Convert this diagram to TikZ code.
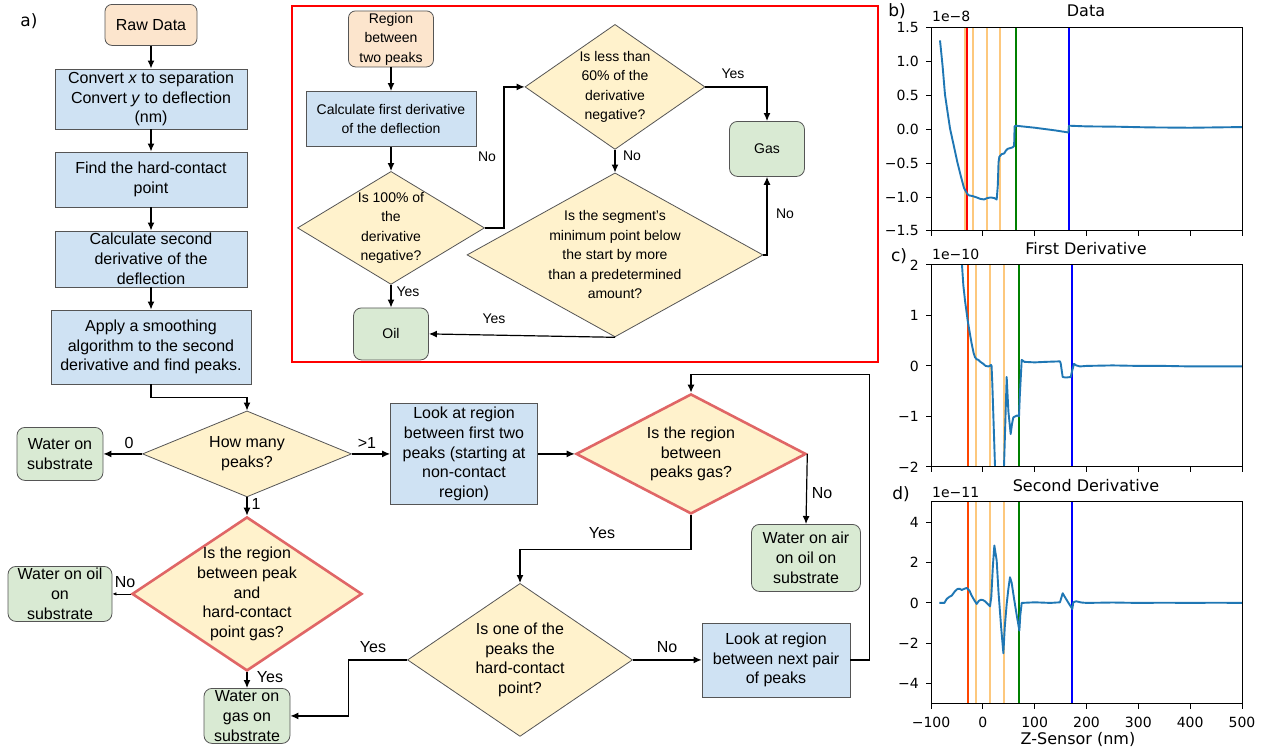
\documentclass[tikz,border=0pt]{standalone}
\usepackage{fontspec}
\setmainfont{Liberation Sans}
\newfontfamily\plotfont{DejaVu Sans}
\definecolor{startPeach}{RGB}{252,229,205}
\definecolor{stepBlue}{RGB}{207,226,243}
\definecolor{askYellow}{RGB}{255,242,204}
\definecolor{endGreen}{RGB}{217,234,211}
\definecolor{edgeRed}{RGB}{224,102,102}
\definecolor{boxGray}{RGB}{85,85,85}
\definecolor{curveBlue}{RGB}{31,119,180}
\definecolor{peakOrange}{RGB}{253,200,125}
\definecolor{hardRed}{RGB}{255,69,0}
\definecolor{plotGreen}{RGB}{0,128,0}
\usepackage{tikz}
\usetikzlibrary{shapes.geometric,arrows.meta,positioning,calc}

\begin{document}
\begin{tikzpicture}[x=1pt,y=-1pt,
    font=\fontsize{16}{19.7}\selectfont,
    start/.style={draw=boxGray,fill=startPeach,rounded corners=7pt,align=center,line width=0.8pt,inner sep=0pt},
    task/.style={draw=boxGray,fill=stepBlue,align=center,line width=0.8pt,inner sep=0pt},
    result/.style={draw=boxGray,fill=endGreen,rounded corners=8pt,align=center,line width=0.8pt,inner sep=0pt},
    query/.style={diamond,draw=boxGray,fill=askYellow,line width=0.8pt,inner sep=0pt},
    keyquery/.style={query,draw=edgeRed,line width=2.6pt},
    qtext/.style={label={[align=center]center:#1}},
    flow/.style={-{Latex[length=8pt,width=7pt]},line width=1.2pt},
    smallflow/.style={-{Latex[length=4pt,width=3.5pt]},line width=0.8pt},
    panel/.style={font=\plotfont\fontsize{17}{20}\selectfont},
    plottext/.style={font=\plotfont\fontsize{14}{17}\selectfont,inner sep=0pt},
    plottitle/.style={font=\plotfont\fontsize{16}{19}\selectfont,inner sep=0pt},
    axisframe/.style={line width=0.9pt},
    peakline/.style={line width=2pt},
    datacurve/.style={curveBlue,line width=1.9pt,line join=round}
  ]
\fill[white] (0,0) rectangle (1271,748);

\node[panel] (lblA) at (29,17) {a)};

\node[start,minimum width=92,minimum height=41] (raw) at (151,21) {Raw Data};
\node[task,minimum width=192,minimum height=60] (convert) at (151,95)
  {Convert \textit{x} to separation\\Convert \textit{y} to deflection\\(nm)};
\node[task,minimum width=192,minimum height=55] (hardpt) at (151,175.5)
  {Find the hard-contact\\point};
\node[task,minimum width=192,minimum height=56] (second) at (151,255)
  {Calculate second\\derivative of the\\deflection};
\node[task,minimum width=200,minimum height=74] (smooth) at (151,343)
  {Apply a smoothing\\algorithm to the second\\derivative and find peaks.};

\node[query,minimum width=209,minimum height=86,qtext={How many\\peaks?}] (count) at (247,450) {};
\node[result,minimum width=86,minimum height=53] (onsub) at (60,450) {Water on\\substrate};
\node[keyquery,minimum width=230,minimum height=154,
  qtext={Is the region\\between peak\\and\\hard-contact\\point gas?}] (peakq) at (247,590) {};
\node[result,minimum width=104,minimum height=55] (oilsub) at (60,590) {Water on oil\\on\\substrate};
\node[result,minimum width=86,minimum height=55] (gassub) at (247,712) {Water on\\gas on\\substrate};

\node[task,minimum width=147,minimum height=101] (firsttwo) at (464,450)
  {Look at region\\between first two\\peaks (starting at\\non-contact\\region)};
\node[keyquery,minimum width=230,minimum height=120,
  qtext={Is the region\\between\\peaks gas?}] (gasq) at (691,450) {};
\node[result,minimum width=109,minimum height=67] (airsub) at (806,554)
  {Water on air\\on oil on\\substrate};
\node[query,minimum width=225,minimum height=153,
  qtext={Is one of the\\peaks the\\hard-contact\\point?}] (hardq) at (520,656) {};
\node[task,minimum width=148,minimum height=74] (nextpair) at (776,656)
  {Look at region\\between next pair\\of peaks};

\draw[flow] (raw) -- (convert);
\draw[flow] (convert) -- (hardpt);
\draw[flow] (hardpt) -- (second);
\draw[flow] (second) -- (smooth);
\draw[flow] (smooth.south) -- ++(0,13) -| (count.north);
\draw[flow] (count.west) -- (onsub.east);
\draw[flow] (count.east) -- (firsttwo.west);
\draw[flow] (count.south) -- (peakq.north);
\draw[smallflow] (peakq.west) -- (oilsub.east);
\draw[flow] (peakq.south) -- (gassub.north);
\draw[flow] (firsttwo.east) -- (gasq.west);
\draw[flow] (gasq.east) -- (airsub.north);
\draw[flow] (gasq.south) -- ++(0,34) -| (hardq.north);
\draw[flow] (hardq.west) -- ++(-59,0) |- (gassub.east);
\draw[flow] (hardq.east) -- (nextpair.west);
\draw[flow] (nextpair.east) -- ++(19,0) |- ($(gasq.north)+(0,-18)$) -- (gasq.north);

\node (tZero) at (129,439) {0};
\node (tMany) at (367,439) {>1};
\node (tOne) at (256,500) {1};
\node (tNoOil) at (125,578) {No};
\node (tYesGas) at (270,673) {Yes};
\node (tYesHard) at (373,643) {Yes};
\node (tNoHard) at (667,643) {No};
\node (tYesPeaks) at (602,529) {Yes};
\node (tNoPeaks) at (822,489) {No};

\draw[red,line width=2pt] (292,2) rectangle (878,358);
\begin{scope}[font=\fontsize{14}{19.5}\selectfont]
\node[start,minimum width=85,minimum height=56] (region) at (391,35) {Region\\between\\two peaks};
\node[task,minimum width=170,minimum height=55] (first) at (391,115)
  {Calculate first derivative\\of the deflection};
\node[query,minimum width=187,minimum height=113,
  qtext={Is 100\% of\\the\\derivative\\negative?}] (allq) at (391,224) {};
\node[query,minimum width=180,minimum height=125,
  qtext={Is less than\\60\% of the\\derivative\\negative?}] (sixtyq) at (615,83) {};
\node[result,minimum width=75,minimum height=55] (gas) at (767,145) {Gas};
\node[query,minimum width=296,minimum height=164,
  qtext={Is the segment's\\minimum point below\\the start by more\\than a predetermined\\amount?}] (minq) at (615,251) {};
\node[result,minimum width=75,minimum height=52] (oil) at (391,330) {Oil};

\draw[flow] (region) -- (first);
\draw[flow] (first) -- (allq);
\draw[flow] (allq.east) -- ++(19,0) |- (sixtyq.west);
\draw[flow] (sixtyq.east) -| (gas.north);
\draw[flow] (sixtyq.south) -- (minq.north);
\draw[flow] (minq.east) -| (gas.south);
\draw[flow] (minq.south) -- (oil.east);
\draw[flow] (allq.south) -- (oil.north);

\node (tNoAll) at (487,153) {No};
\node (tYesSixty) at (733,70) {Yes};
\node (tNoSixty) at (632,152) {No};
\node (tNoMin) at (785,210) {No};
\node (tYesMin) at (494,315) {Yes};
\node (tYesAll) at (408,288) {Yes};
\end{scope}

% b) data
\node[panel] (lblB) at (897,7) {b)};
\node[plottitle,anchor=base] (titleB) at (1086,13) {Data};
\node[plottext,anchor=base west] (expB) at (932,18) {1e−8};
\begin{scope}[shift={(983pt,-124.5pt)},x=0.518pt,y=67.67pt]
  \clip (-100,-1.5) rectangle (500,1.5);
  \foreach \v/\c in {-34.7/peakOrange,-30.2/red,-18.6/peakOrange,7.1/peakOrange,32.8/peakOrange,63.7/plotGreen,166/blue}
    \draw[peakline,\c] (\v,-1.5) -- (\v,1.5);
  \draw[datacurve] plot coordinates {(-83,1.30) (-78,0.92) (-73.4,0.5) (-68,0.22) (-63.7,0.0) (-56,-0.27)
    (-49.5,-0.5) (-43,-0.7) (-36.7,-0.88) (-30.2,-0.97) (-27,-0.99) (-20,-1.0) (-12,-1.02) (-5.8,-1.04)
    (2,-1.05) (8,-1.03) (15,-1.02) (22,-1.03) (26.4,-1.05) (28.5,-0.85) (30,-0.5) (31.5,-0.42) (36,-0.38)
    (41,-0.37) (44,-0.33) (48,-0.3) (53,-0.29) (57,-0.28) (60,-0.26) (61,0.03) (63,0.04) (100,0.01)
    (140,-0.03) (164.8,-0.06) (166,0.04) (200,0.03) (260,0.025) (320,0.015) (400,0.01) (450,0.015) (500,0.02)};
\end{scope}
\draw[axisframe] (931,24) rectangle (1242,227);
\foreach \i in {0,...,6}
  \draw[axisframe] (931+51.83*\i,227) -- ++(0,5);
\foreach \v [count=\j from 0] in {1.5,1.0,0.5,0.0,−0.5,−1.0,−1.5} {
  \draw[axisframe] (931,24+33.83*\j) -- ++(-5,0);
  \node[plottext,anchor=east] (tickB\j) at (919,24+33.83*\j) {\v};
}

% c) first derivative
\node[panel] (lblC) at (899,252) {c)};
\node[plottitle,anchor=base] (titleC) at (1086,250.7) {First Derivative};
\node[plottext,anchor=base west] (expC) at (932,256) {1e−10};
\begin{scope}[shift={(983pt,-362pt)},x=0.518pt,y=50.5pt]
  \clip (-100,-2) rectangle (500,2);
  \foreach \v/\c in {-29/hardRed,-12.9/peakOrange,14.1/peakOrange,40/peakOrange,69.5/plotGreen,171.8/blue}
    \draw[peakline,\c] (\v,-2) -- (\v,2);
  \draw[datacurve] plot coordinates {(-42.5,2.3) (-38,1.6) (-34.7,1.29) (-29.6,0.9) (-25,0.62) (-21.9,0.44)
    (-18,0.25) (-15.4,0.17) (-12,0.13) (-9,0.12) (-5,0.08) (0.7,0.04) (5,0.0) (10.3,-0.01) (13,0.0)
    (15.4,0.02) (16.5,0.0) (18,-0.36) (23.2,-2.0) (25,-2.5) (39,-2.5) (40.5,-2.0) (45.7,-0.22) (49,-0.9)
    (53.4,-1.35) (56,-1.15) (58.5,-1.02) (62,-1.0) (66.2,-0.98) (69.5,-1.0) (71,-0.6) (74.7,0.12) (80,0.08)
    (100,0.07) (120,0.08) (148.6,0.09) (150,0.05) (153.8,-0.22) (160,-0.23) (169.3,-0.22) (172,-0.1)
    (175.7,0.04) (180,0.01) (187,-0.01) (200,0.0) (250,0.01) (300,0.0) (350,0.0) (400,-0.01) (450,-0.01) (500,-0.01)};
\end{scope}
\draw[axisframe] (931,261) rectangle (1242,463);
\foreach \i in {0,...,6}
  \draw[axisframe] (931+51.83*\i,463) -- ++(0,5);
\foreach \v [count=\j from 0] in {2,1,0,−1,−2} {
  \draw[axisframe] (931,261+50.5*\j) -- ++(-5,0);
  \node[plottext,anchor=east] (tickC\j) at (919,261+50.5*\j) {\v};
}

% d) second derivative
\node[panel] (lblD) at (901,490) {d)};
\node[plottitle,anchor=base] (titleD) at (1086,488) {Second Derivative};
\node[plottext,anchor=base west] (expD) at (932,494) {1e−11};
\begin{scope}[shift={(983pt,-599pt)},x=0.518pt,y=20.2pt]
  \clip (-100,-5) rectangle (500,5);
  \foreach \v/\c in {-29/hardRed,-12.9/peakOrange,14.1/peakOrange,40/peakOrange,69.5/plotGreen,171.8/blue}
    \draw[peakline,\c] (\v,-5) -- (\v,5);
  \draw[datacurve] plot coordinates {(-84.3,0) (-74.6,0) (-70,0.2) (-65,0.3) (-60.4,0.36) (-55,0.55)
    (-49.5,0.69) (-45,0.7) (-41,0.64) (-36,0.7) (-31.5,0.74) (-26,0.6) (-21.9,0.36) (-16,0.1) (-12.2,-0.05)
    (-8,0.1) (-3.9,0.16) (0,0.14) (3.9,0.08) (9,-0.05) (13.5,-0.17) (16,0.3) (19,1.8) (21.9,2.84) (26.4,2.1)
    (30,0.5) (35,-1.2) (39.3,-2.49) (42,-1.2) (45.7,-0.05) (49,0.7) (52.1,1.27) (55.3,1.0) (60,0.2)
    (65,-0.6) (70.2,-1.37) (72,-0.6) (74.7,0) (100,0.03) (130,0.0) (148.6,0.03) (153.8,0.48) (158.3,0.28)
    (165,0.0) (172.4,-0.3) (174.3,0.03) (180,0.08) (190,0.02) (200,0) (250,0.02) (300,0) (350,0.01)
    (400,0) (450,0.01) (500,0)};
\end{scope}
\draw[axisframe] (931,498) rectangle (1242,700);
\foreach \v [count=\i from 0] in {−100,0,100,200,300,400,500} {
  \draw[axisframe] (931+51.83*\i,700) -- ++(0,5);
  \node[plottext,anchor=north] (tickX\i) at (931+51.83*\i,713) {\v};
}
\foreach \v [count=\j from 0] in {4,2,0,−2,−4} {
  \draw[axisframe] (931,518.2+40.4*\j) -- ++(-5,0);
  \node[plottext,anchor=east] (tickD\j) at (919,518.2+40.4*\j) {\v};
}
\node[plottitle,anchor=base] (xlabel) at (1078,741) {Z-Sensor (nm)};
\end{tikzpicture}
\end{document}
